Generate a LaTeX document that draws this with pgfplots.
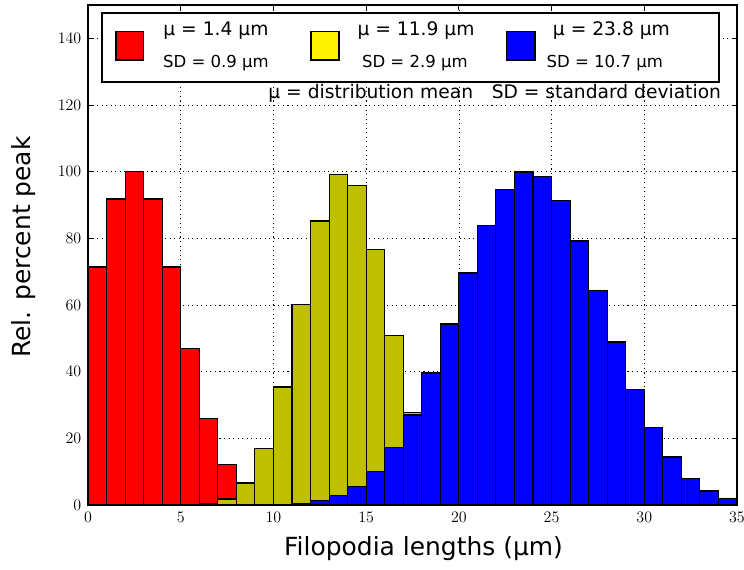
\documentclass[border=0pt]{standalone}
\usepackage{fontspec}
\setmainfont{DejaVu Sans}
\usepackage{pgfplots}
\pgfplotsset{compat=1.18}
\definecolor{oliveY}{rgb}{0.75,0.75,0}
\begin{document}
\begin{tikzpicture}
\useasboundingbox (-66pt,-48pt) rectangle (492pt,378.75pt);
\begin{axis}[
  at={(0pt,0pt)}, anchor=south west,
  scale only axis, width=486.75pt, height=375pt,
  xmin=0, xmax=35, ymin=0, ymax=150,
  xtick={0,5,...,35}, ytick={0,20,...,140},
  grid=major,
  major grid style={black, dash pattern=on 0.8pt off 2.6pt, line width=0.5pt},
  axis line style={black, line width=0.8pt},
  tick style={black, line width=0.6pt},
  major tick length=4pt,
  tick align=inside,
  tick label style={font=\fontsize{12.5}{14}\selectfont},
  yticklabel style={xshift=-1.5pt},
  xticklabel style={yshift=-2pt},
  label style={font=\fontsize{18.7}{21}\selectfont},
  xlabel={Filopodia lengths (μm)},
  ylabel={Rel. percent peak},
  xlabel style={at={(axis description cs:0.517,-0.088)}, anchor=center},
  ylabel style={at={(axis description cs:-0.099,0.516)}, anchor=center},
]
\addplot[ybar interval, fill=red, draw=black, line width=0.8pt] coordinates {
(0,71.4) (1,91.8) (2,100) (3,91.8) (4,71.4) (5,46.9) (6,26.0) (7,12.2) (8,0)
};
\addplot[ybar interval, fill=oliveY, draw=black, line width=0.8pt] coordinates {
(6,0.4) (7,1.8) (8,6.6) (9,16.9) (10,35.4) (11,60.2) (12,85.2) (13,99.2) (14,95.9) (15,76.7) (16,50.9) (17,27.8) (18,0)
};
\addplot[ybar interval, fill=blue, draw=black, line width=0.8pt] coordinates {
(10,0.2) (11,0.5) (12,1.3) (13,2.8) (14,5.5) (15,10.0) (16,17.3) (17,27.0) (18,39.6) (19,54.3) (20,69.6) (21,83.8) (22,94.6) (23,99.9) (24,98.6) (25,91.4) (26,79.2) (27,64.3) (28,48.9) (29,34.7) (30,23.2) (31,14.4) (32,8.0) (33,4.2) (34,2.0) (35,0)
};
% legend
\draw[fill=white, line width=1.5pt] (axis cs:0.755,147.6) rectangle (axis cs:34.03,127.0);
\draw[fill=red, line width=1pt] (axis cs:1.51,142.0) rectangle (axis cs:3.0,133.5);
\draw[fill=yellow, line width=1pt] (axis cs:12.02,142.0) rectangle (axis cs:13.53,133.5);
\draw[fill=blue, line width=1pt] (axis cs:22.56,142.0) rectangle (axis cs:24.10,133.5);
\node[font=\fontsize{14}{16}\selectfont, inner sep=0pt] at (axis cs:6.9,142.2) {μ = 1.4 μm};
\node[font=\fontsize{12.4}{14}\selectfont, inner sep=0pt] at (axis cs:6.9,132.6) {SD = 0.9 μm};
\node[font=\fontsize{14}{16}\selectfont, inner sep=0pt] at (axis cs:17.69,142.2) {μ = 11.9 μm};
\node[font=\fontsize{12.4}{14}\selectfont, inner sep=0pt] at (axis cs:17.63,132.6) {SD = 2.9 μm};
\node[font=\fontsize{14}{16}\selectfont, inner sep=0pt] at (axis cs:28.23,142.2) {μ = 23.8 μm};
\node[font=\fontsize{12.4}{14}\selectfont, inner sep=0pt] at (axis cs:27.87,132.6) {SD = 10.7 μm};
\node[font=\fontsize{14}{16}\selectfont, inner sep=0pt, anchor=east] at (axis cs:34.15,123.6) {μ = distribution mean\quad SD = standard deviation};
\end{axis}
\end{tikzpicture}
\end{document}
